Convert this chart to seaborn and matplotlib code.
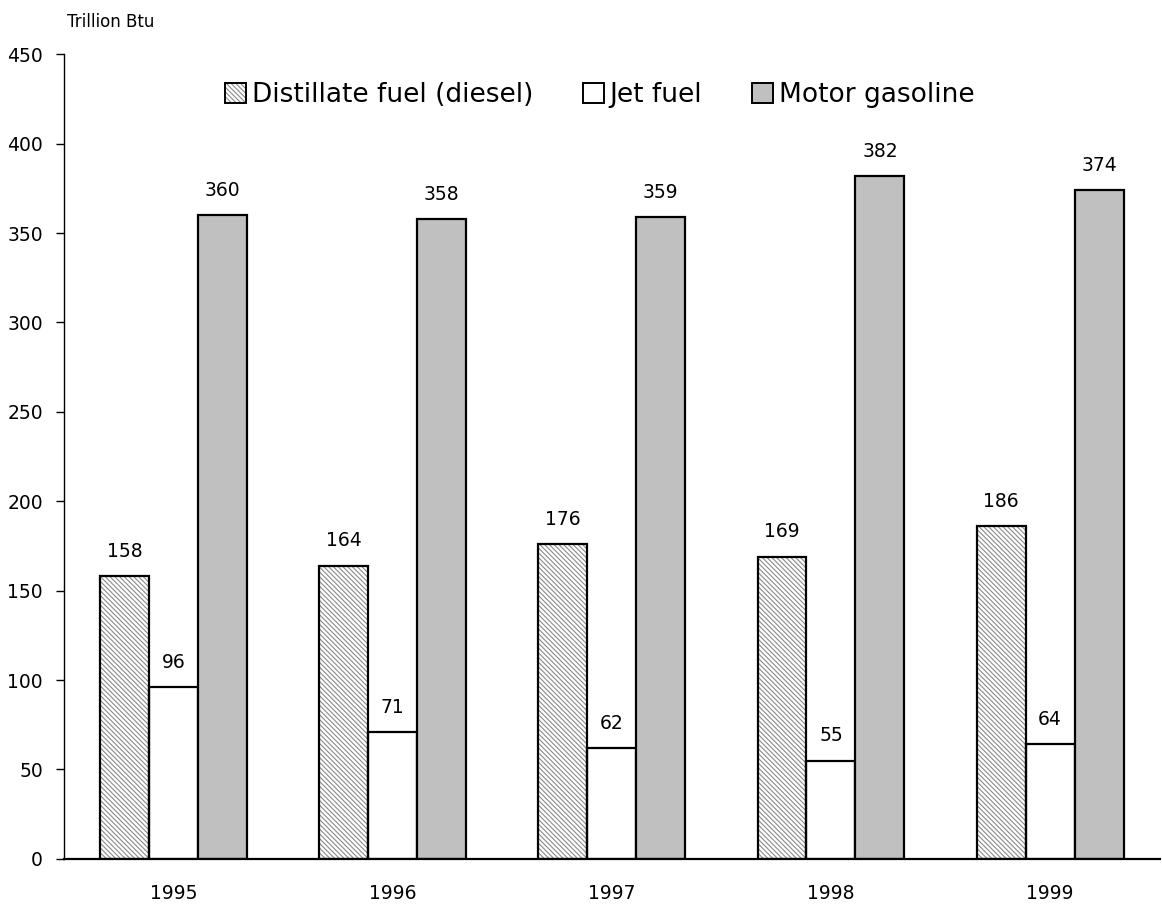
import matplotlib
matplotlib.use("Agg")
import matplotlib.pyplot as plt
import seaborn as sns
import pandas as pd
from matplotlib.patches import Patch, Rectangle
from matplotlib.legend_handler import HandlerTuple

years = ["1995", "1996", "1997", "1998", "1999"]
series = ["Distillate fuel (diesel)", "Jet fuel", "Motor gasoline"]
distillate = [158, 164, 176, 169, 186]
jet = [96, 71, 62, 55, 64]
gasoline = [360, 358, 359, 382, 374]
yticks = [0, 50, 100, 150, 200, 250, 300, 350, 400, 450]

sns.set_theme(style="white")
plt.rcParams['font.family'] = ['DejaVu Sans']
plt.rcParams['text.color'] = 'black'
plt.rcParams['xtick.color'] = 'black'
plt.rcParams['ytick.color'] = 'black'
plt.rcParams['hatch.linewidth'] = 0.8

HATCH = "\\" * 7
HATCH_COLOR = "#8a8a8a"

rows = []
for s, vals in zip(series, [distillate, jet, gasoline]):
    for y, v in zip(years, vals):
        rows.append({"Year": y, "Series": s, "Value": v})
df = pd.DataFrame(rows)

colors = {"Distillate fuel (diesel)": "white", "Jet fuel": "white", "Motor gasoline": "#c0c0c0"}

fig = plt.figure(figsize=(11.62, 9.05), dpi=100)
ax = fig.add_axes([0.055, 0.051, 0.943, 0.889])

sns.barplot(data=df, x="Year", y="Value", hue="Series", hue_order=series,
            order=years, palette=colors, width=0.67, edgecolor="black",
            linewidth=1.6, ax=ax, legend=False, saturation=1)

for i, cont in enumerate(ax.containers):
    if i == 0:
        for p in cont:
            p.set_hatch(HATCH)
            p.set_edgecolor(HATCH_COLOR)
            p.set_linewidth(0)
            ax.add_patch(Rectangle(p.get_xy(), p.get_width(), p.get_height(),
                                   fill=False, edgecolor="black", linewidth=1.6, zorder=p.get_zorder() + 0.1))
    ax.bar_label(cont, labels=[str(int(v)) for v in cont.datavalues],
                 padding=11, fontsize=13.5, color="black")

ax.set_ylim(0, 450)
ax.set_yticks(yticks)
ax.set_yticklabels([str(t) for t in yticks], fontsize=13.5)
ax.tick_params(axis="x", labelsize=13.5, length=0, pad=18)
ax.tick_params(axis="y", left=True, length=6, width=1, direction="out", color="black", pad=9)
ax.set_xlabel("")
ax.set_ylabel("")
for side in ["top", "right"]:
    ax.spines[side].set_visible(False)
ax.spines["left"].set_color("black")
ax.spines["left"].set_linewidth(1)
ax.spines["bottom"].set_color("black")
ax.spines["bottom"].set_linewidth(1.6)

fig.text(67 / 1162, 1 - 27 / 905, "Trillion Btu", fontsize=12, ha="left", va="baseline")

handles = [(Patch(facecolor="white", edgecolor=HATCH_COLOR, hatch=HATCH, linewidth=0),
            Patch(fill=False, edgecolor="black", linewidth=1.4)),
           Patch(facecolor="white", edgecolor="black", linewidth=1.4),
           Patch(facecolor="#c0c0c0", edgecolor="black", linewidth=1.4)]
ax.legend(handles, series, loc="upper center", bbox_to_anchor=(0.489, 0.995), ncol=3,
          frameon=False, fontsize=19, handlelength=0.8, handleheight=0.8,
          handletextpad=0.2, columnspacing=1.9,
          handler_map={tuple: HandlerTuple(ndivide=1, pad=0)})

fig.savefig("out.png", dpi=100)
